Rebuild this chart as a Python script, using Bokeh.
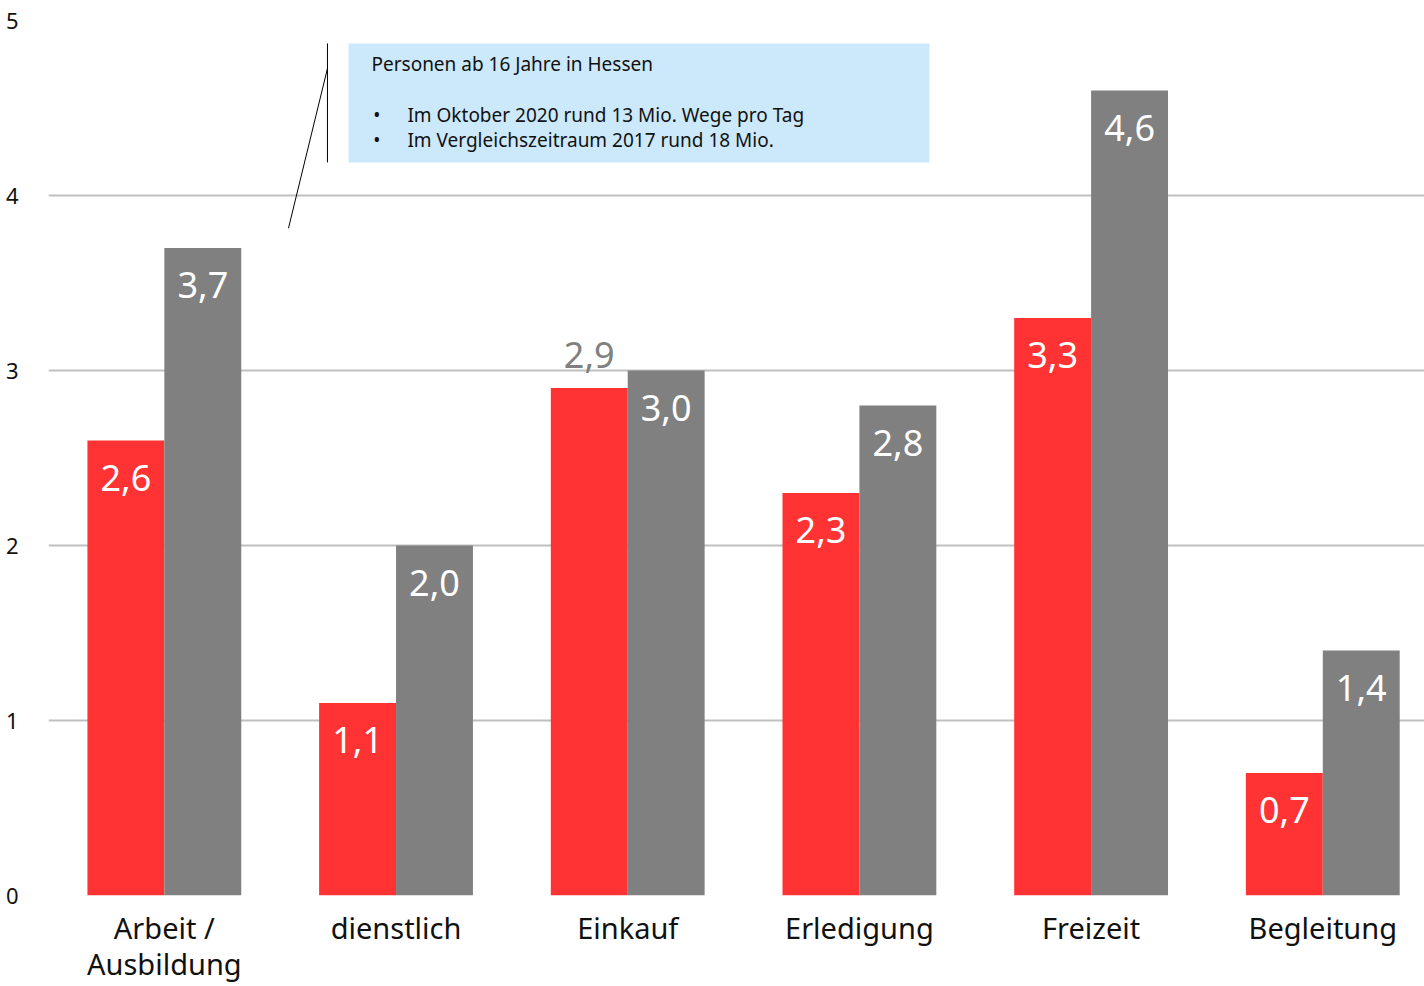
from bokeh.plotting import figure
from bokeh.models import ColumnDataSource, FixedTicker, Range1d, BoxAnnotation
from bokeh.core.properties import value
from bokeh.embed import file_html
from bokeh.resources import INLINE

categories = ["Arbeit /\nAusbildung", "dienstlich", "Einkauf", "Erledigung", "Freizeit", "Begleitung"]
values_2020 = [2.6, 1.1, 2.9, 2.3, 3.3, 0.7]
values_2017 = [3.7, 2.0, 3.0, 2.8, 4.6, 1.4]
label_outside_2020 = [False, False, True, False, False, False]
y_ticks = [0, 1, 2, 3, 4, 5]

info_title = "Personen ab 16 Jahre in Hessen"
info_bullets = ["Im Oktober 2020 rund 13 Mio. Wege pro Tag",
                "Im Vergleichszeitraum 2017 rund 18 Mio."]

RED = "#ff3333"
GREY = "#808080"
FONT = "Noto Sans"

def fmt(v):
    return f"{v:.1f}".replace(".", ",")

centers = [i + 0.5 for i in range(len(categories))]
bw = 0.332

p = figure(width=1424, height=986, output_backend="svg", toolbar_location=None,
           x_range=Range1d(0, 5.939), y_range=Range1d(0, 5),
           min_border_left=48, min_border_right=0, min_border_top=20, min_border_bottom=88)
p.outline_line_color = None
p.background_fill_color = "white"
p.border_fill_color = "white"

red_src = ColumnDataSource(dict(
    x=[c - bw / 2 for c in centers], top=values_2020,
    label=[fmt(v) for v in values_2020],
    ly=values_2020,
    color=["#808080" if o else "white" for o in label_outside_2020],
    off=[-33 if o else 37 for o in label_outside_2020]))
grey_src = ColumnDataSource(dict(
    x=[c + bw / 2 for c in centers], top=values_2017,
    label=[fmt(v) for v in values_2017],
    ly=values_2017,
    color=["white"] * len(values_2017),
    off=[37] * len(values_2017)))

p.vbar(x="x", top="top", width=bw, bottom=0, source=red_src, fill_color=RED, line_color=None)
p.vbar(x="x", top="top", width=bw, bottom=0, source=grey_src, fill_color=GREY, line_color=None)

for src in (red_src, grey_src):
    p.text(x="x", y="ly", text="label", source=src, y_offset="off",
           text_color="color", text_font=value(FONT), text_font_size="36px",
           text_align="center", text_baseline="middle")

# info box
p.add_layout(BoxAnnotation(left=1.2948, right=3.8024, bottom=4.189, top=4.869,
                           fill_color="#cce9fb", fill_alpha=1.0, line_color=None, level="underlay"))
p.text(x=[1.394], y=[4.749], text=[info_title], text_font=value(FONT),
       text_font_size="19px", text_color="#111111", text_baseline="middle")
p.text(x=[1.402, 1.402], y=[4.458, 4.315], text=["•", "•"], text_font=value(FONT),
       text_font_size="19px", text_color="#111111", text_baseline="middle")
p.text(x=[1.549, 1.549], y=[4.458, 4.315], text=info_bullets, text_font=value(FONT),
       text_font_size="19px", text_color="#111111", text_baseline="middle")
p.line(x=[1.204, 1.204], y=[4.189, 4.869], line_color="black", line_width=1)
p.line(x=[1.0358, 1.204], y=[3.813, 4.726], line_color="black", line_width=1)

# axes
p.yaxis.ticker = FixedTicker(ticks=y_ticks)
p.yaxis.axis_line_color = None
p.yaxis.major_tick_line_color = None
p.yaxis.minor_tick_line_color = None
p.yaxis.major_label_text_font = FONT
p.yaxis.major_label_text_font_size = "22px"
p.yaxis.major_label_text_color = "#111111"
p.yaxis.major_label_standoff = 24

p.xaxis.ticker = FixedTicker(ticks=centers)
p.xaxis.major_label_overrides = {c: lab for c, lab in zip(centers, categories)}
p.xaxis.axis_line_color = None
p.xaxis.major_tick_line_color = None
p.xaxis.minor_tick_line_color = None
p.xaxis.major_label_text_font = FONT
p.xaxis.major_label_text_font_size = "29px"
p.xaxis.major_label_text_color = "#111111"
p.xaxis.major_label_text_line_height = 0.94
p.xaxis.major_label_standoff = 6

p.xgrid.grid_line_color = None
p.ygrid.grid_line_color = "#c0c0c0"
p.ygrid.grid_line_width = 2

open("out.html", "w").write(file_html(p, INLINE))
